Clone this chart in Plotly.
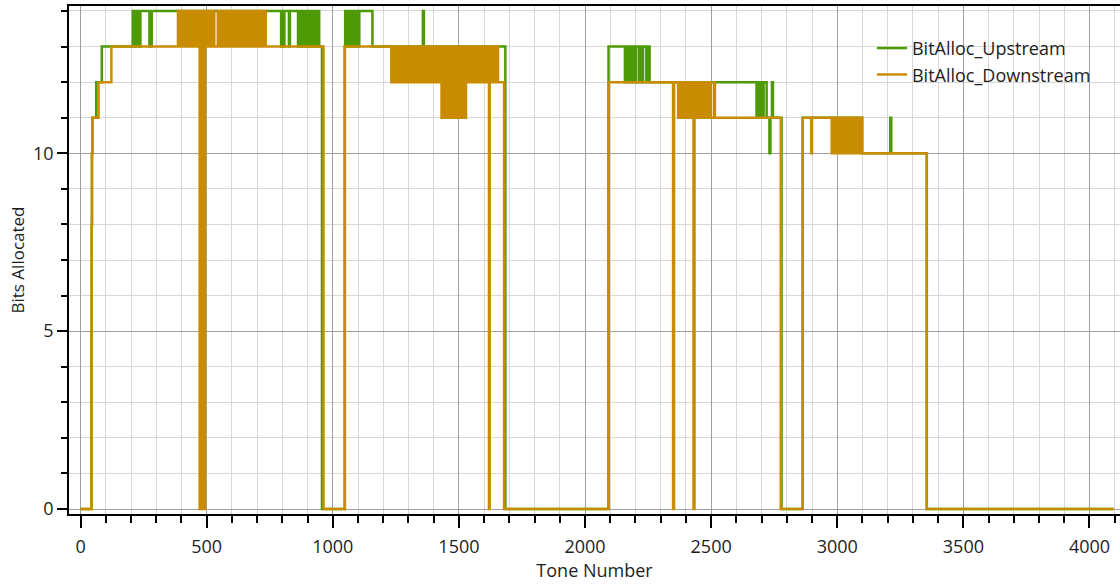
import plotly.graph_objects as go

# ---------------- data ----------------
# step breakpoints (tone, bits): the value holds from that tone onward
UP_STEPS = [
    (0, 0), (43, 5), (44, 8), (45, 10), (47, 11), (62, 12), (84, 13),
    (273, 13), (276, 14), (279, 13), (282, 14),
    (795, 13), (799, 14), (805, 13), (808, 14), (826, 13), (830, 14),
    (957, 0),
    (1047, 13), (1101, 13), (1105, 14), (1157, 13), (1357, 14), (1361, 13),
    (1684, 0),
    (2093, 13), (2215, 12), (2218, 13), (2227, 12), (2230, 13), (2243, 12),
    (2246, 13), (2256, 12),
    (2720, 11), (2731, 10), (2735, 11), (2741, 12), (2745, 11), (2779, 0),
    (2863, 11), (3097, 10), (3210, 11), (3214, 10), (3355, 0), (4095, 0),
]
# rapidly toggling stretches: (first level, second level, tones where it switches)
UP_TOGGLES = [
    (14, 13, [207, 210, 213, 216, 219, 222, 225, 228, 231, 234, 237]),
    (13, 14, [862, 865, 868, 871, 874, 877, 880, 883, 886, 889, 892, 895, 898,
              901, 904, 907, 910, 913, 916, 919, 922, 925, 928, 931, 934, 937,
              940, 943, 946]),
    (14, 13, [1049, 1052, 1055, 1058, 1061, 1064, 1067, 1070, 1073, 1076, 1079,
              1082, 1085, 1088, 1091]),
    (12, 13, [2158, 2161, 2164, 2167, 2170, 2173, 2176, 2179, 2182, 2185, 2188,
              2191, 2194, 2197, 2200, 2203]),
    (11, 12, [2680, 2684, 2688, 2692, 2696, 2700, 2704, 2708]),
]

DS_STEPS = [
    (0, 0), (43, 5), (44, 8), (45, 10), (47, 11), (71, 12), (122, 13),
    (472, 0), (475, 14), (478, 0), (481, 13), (484, 0), (487, 14), (490, 0), (493, 13),
    (963, 0), (1048, 13), (1232, 12),
    (1619, 0), (1622, 13), (1679, 0),
    (2093, 12), (2349, 0), (2353, 12), (2430, 0), (2434, 12),
    (2511, 12), (2515, 11), (2776, 0),
    (2863, 11), (2897, 10), (2900, 11), (3355, 0), (4095, 0),
]
DS_TOGGLES = [
    (14, 13, [386, 391, 394, 399, 402, 406, 409, 414, 417, 421, 424, 429, 432,
              436, 439, 444, 447, 451, 454, 459, 462, 466, 469]),
    (14, 13, [497, 501, 504, 509, 512, 516, 519, 524, 527, 530]),
    (14, 13, [544, 548, 551, 555, 558, 563, 566, 570, 573, 578, 581, 585, 588,
              593, 596, 600, 603, 608, 611, 615, 618, 623, 626, 630, 633, 638,
              641, 645, 648, 653, 656, 660, 663, 668, 671, 675, 678, 683, 686,
              690, 693, 698, 701, 705, 708, 713, 716, 720, 723, 728, 731, 734]),
    (13, 12, [1235, 1239, 1242, 1246, 1249, 1253]),
    (13, 12, [1262, 1266, 1269, 1273, 1276, 1280, 1284, 1287, 1291, 1294, 1298,
              1302, 1305, 1309, 1312, 1316, 1320, 1323, 1327, 1330, 1334, 1338,
              1341, 1345, 1348, 1352, 1356, 1359, 1363, 1366, 1370, 1374, 1377,
              1381, 1384, 1388, 1392, 1395, 1399, 1402, 1406, 1410, 1413, 1417,
              1420, 1424, 1428]),
    (11, 13, [1431, 1435, 1438, 1442, 1445, 1449, 1453, 1456, 1460, 1463, 1467,
              1471, 1474, 1478, 1481, 1485, 1489, 1492, 1496, 1499, 1503, 1507,
              1510, 1514, 1517, 1521, 1525, 1528]),
    (12, 13, [1532, 1536, 1539, 1543, 1546, 1550, 1554, 1557, 1561, 1564, 1568,
              1572, 1575, 1579, 1582, 1586, 1590, 1593, 1597, 1600, 1604, 1608,
              1611, 1615, 1626, 1629, 1633, 1636, 1640, 1644, 1647, 1651, 1655]),
    (11, 12, [2369, 2373, 2376, 2380, 2383, 2387, 2391, 2394, 2398, 2401, 2405,
              2409, 2412, 2416, 2419, 2423, 2427, 2438, 2441, 2445, 2449, 2452,
              2456, 2459, 2463, 2467, 2470, 2474, 2477, 2481, 2485, 2488, 2492,
              2495, 2498]),
    (10, 11, [2978, 2982, 2985, 2989, 2992, 2996, 3000, 3003, 3007, 3010, 3014,
              3018, 3021, 3025, 3028, 3032, 3036, 3039, 3043, 3046, 3050, 3054,
              3057, 3061, 3064, 3068, 3072, 3075, 3079, 3082, 3086, 3090, 3093,
              3097, 3100]),
]

SERIES_NAMES = ["BitAlloc_Upstream", "BitAlloc_Downstream"]
SERIES_COLORS = ["#4E9A06", "#C98C00"]


def build(steps, toggles):
    pts = dict(steps)
    for a, b, tones in toggles:
        for i, t in enumerate(tones):
            pts[t] = a if i % 2 == 0 else b
    xs = sorted(pts)
    return xs, [pts[t] for t in xs]


up_x, up_y = build(UP_STEPS, UP_TOGGLES)
ds_x, ds_y = build(DS_STEPS, DS_TOGGLES)

fig = go.Figure()
for (xs, ys), name, col in zip([(up_x, up_y), (ds_x, ds_y)], SERIES_NAMES, SERIES_COLORS):
    fig.add_trace(go.Scatter(x=xs, y=ys, mode="lines", name=name,
                             line=dict(color=col, width=2.5, shape="hv")))

FONT = "Open Sans"
TXT = "#1e1e1e"
fig.update_layout(
    width=1120, height=587,
    margin=dict(l=69, r=0, t=6, b=73),
    paper_bgcolor="white", plot_bgcolor="white",
    font=dict(family=FONT, size=18, color=TXT),
    legend=dict(x=0.764, y=0.953, xanchor="left", yanchor="top",
                bgcolor="rgba(0,0,0,0)", font=dict(size=18, color=TXT),
                itemwidth=30, tracegroupgap=0),
)
fig.update_xaxes(
    range=[-46, 4121], tickmode="linear", tick0=0, dtick=500,
    ticks="outside", ticklen=12, tickwidth=1.5, tickcolor="black",
    ticklabelstandoff=4,
    showline=True, linecolor="black", linewidth=1.5, mirror=True,
    showgrid=True, gridcolor="#a0a0a0", gridwidth=1, zeroline=False,
    minor=dict(dtick=100, ticks="outside", ticklen=7, tickwidth=1.5,
               tickcolor="black", showgrid=True, gridcolor="#d8d8d8", gridwidth=1),
    title=dict(text="Tone Number", font=dict(size=18, color=TXT), standoff=6),
    automargin=False,
)
fig.update_yaxes(
    range=[-0.14, 14.14], tickmode="linear", tick0=0, dtick=5,
    ticks="outside", ticklen=10, tickwidth=1.5, tickcolor="black",
    showline=True, linecolor="black", linewidth=1.5,
    showgrid=True, gridcolor="#a0a0a0", gridwidth=1, zeroline=False,
    minor=dict(dtick=1, ticks="outside", ticklen=6, tickwidth=1.5,
               tickcolor="black", showgrid=True, gridcolor="#d8d8d8", gridwidth=1),
    title=dict(text="Bits Allocated", font=dict(size=17, color=TXT), standoff=4),
    automargin=False,
)

fig.write_html("out.html")
